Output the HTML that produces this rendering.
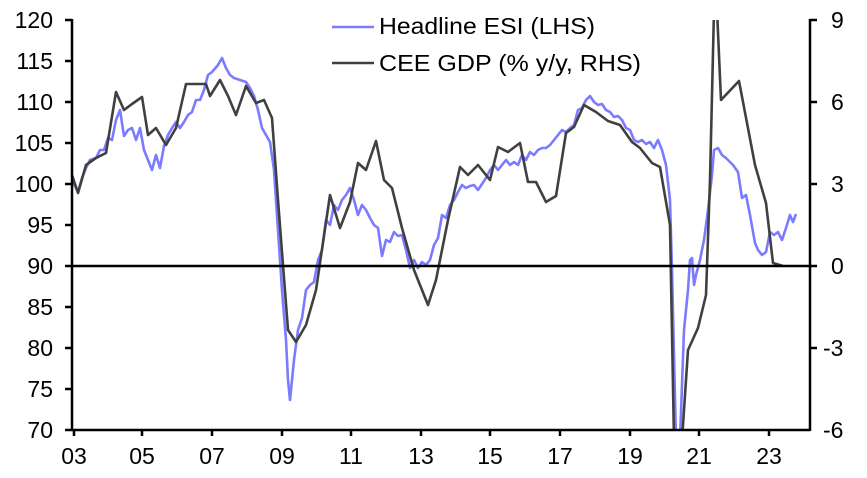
<!DOCTYPE html>
<html><head><meta charset="utf-8"><style>
body{margin:0;background:#fff;}
svg text{font-family:"Liberation Sans",Arial,sans-serif;font-size:23px;fill:#000;}
</style></head><body>
<svg width="867" height="473" viewBox="0 0 867 473">
<defs><clipPath id="c"><rect x="72" y="20" width="738" height="410"/></clipPath></defs>
<g clip-path="url(#c)">
<polyline fill="none" stroke="#7b7bff" stroke-width="2.6" stroke-linejoin="round" points="72,180 78,192 82,178 86,168 90,160 96,158 100,150 104,150 108,138 112,140 116,120 120,110 124,136 128,130 132,128 136,140 140,128 144,150 148,160 152,170 156,155 160,168 164,146 168,135 172,128 176,122 180,128 184,122 188,115 192,112 196,100 200,100 204,90 208,75 212,72 218,65 222,58 226,68 230,75 234,78 240,80 246,82 250,88 254,96 258,110 262,128 266,135 270,142 274,170 278,230 282,290 286,340 288,380 290,400 294,360 298,330 302,318 306,290 310,285 314,282 318,260 322,250 326,220 330,225 334,205 338,210 342,200 346,195 350,188 354,200 358,215 362,205 366,210 370,218 374,225 378,228 382,256 386,240 390,242 394,232 398,236 402,235 406,250 410,268 414,260 418,268 422,262 426,265 430,260 434,245 438,238 442,215 446,218 450,205 454,200 458,192 462,185 466,188 470,186 474,185 478,190 482,184 486,178 490,170 494,165 498,170 502,165 506,160 510,165 514,162 518,165 522,155 526,160 530,152 534,155 538,150 542,148 546,148 550,145 554,140 558,135 562,130 566,132 570,128 574,125 578,110 582,108 586,100 590,96 594,102 598,105 602,104 606,110 610,112 614,117 618,116 622,120 626,128 630,130 634,140 638,142 642,140 646,144 650,142 654,148 658,140 662,150 666,165 670,200 672,270 676,440 680,440 684,330 688,290 690,260 692,258 694,285 696,275 700,260 704,240 708,210 712,175 714,150 718,148 722,155 726,158 730,162 733,165 738,172 742,198 746,195 750,215 755,243 758,250 762,255 766,252 770,232 774,235 778,232 782,240 786,228 790,215 793,222 796,214"/>
<polyline fill="none" stroke="#404040" stroke-width="2.6" stroke-linejoin="round" points="72,175 78,193 86,165 96,158 106,153 116,92 124,110 132,104 142,97 148,135 156,128 166,145 176,128 186,84 196,84 206,84 210,96 220,80 228,96 236,115 246,86 256,103 264,100 272,118 278,200 288,330 296,342 306,325 316,290 330,195 340,228 350,202 358,163 366,170 376,141 384,180 392,188 402,228 414,270 428,305 436,280 448,220 460,167 468,175 478,165 490,180 498,147 508,152 520,143 528,182 536,182 546,202 556,196 566,133 574,127 584,105 596,112 608,121 620,125 632,142 640,148 652,163 660,167 670,225 674,440 682,440 688,350 698,328 706,295 710,180 714,10 717,10 721,100 739,81 755,165 766,203 773,263 783,266"/>
</g>
<line x1="72" y1="266" x2="810" y2="266" stroke="#000" stroke-width="2.5"/>
<g stroke="#000" stroke-width="2.5" fill="none">
<line x1="72" y1="19" x2="72" y2="431"/>
<line x1="810" y1="19" x2="810" y2="431"/>
<line x1="65" y1="430" x2="810" y2="430"/>
<path d="M65 20H72M65 61H72M65 102H72M65 143H72M65 184H72M65 225H72M65 266H72M65 307H72M65 348H72M65 389H72"/>
<path d="M810 20H817M810 102H817M810 184H817M810 266H817M810 348H817"/>
<path d="M74 430V436M142 430V436M212 430V436M282 430V436M351 430V436M421 430V436M490 430V436M560 430V436M630 430V436M699 430V436M769 430V436"/>
</g>
<g text-anchor="end">
<text x="53" y="28">120</text><text x="53" y="69">115</text><text x="53" y="110">110</text><text x="53" y="151">105</text><text x="53" y="192">100</text><text x="53" y="233">95</text><text x="53" y="274">90</text><text x="53" y="315">85</text><text x="53" y="356">80</text><text x="53" y="397">75</text><text x="53" y="438">70</text>
</g>
<g>
<text x="831" y="28">9</text><text x="831" y="110">6</text><text x="831" y="192">3</text><text x="831" y="274">0</text><text x="823" y="356">-3</text><text x="823" y="438">-6</text>
</g>
<g text-anchor="middle">
<text x="74" y="464">03</text><text x="142" y="464">05</text><text x="212" y="464">07</text><text x="282" y="464">09</text><text x="351" y="464">11</text><text x="421" y="464">13</text><text x="490" y="464">15</text><text x="560" y="464">17</text><text x="630" y="464">19</text><text x="699" y="464">21</text><text x="769" y="464">23</text>
</g>
<line x1="332" y1="27" x2="374" y2="27" stroke="#7b7bff" stroke-width="2.6"/>
<text x="379" y="34" textLength="216" lengthAdjust="spacingAndGlyphs">Headline ESI (LHS)</text>
<line x1="332" y1="63" x2="374" y2="63" stroke="#404040" stroke-width="2.6"/>
<text x="379" y="71" textLength="262" lengthAdjust="spacingAndGlyphs">CEE GDP (% y/y, RHS)</text>
</svg>
</body></html>
